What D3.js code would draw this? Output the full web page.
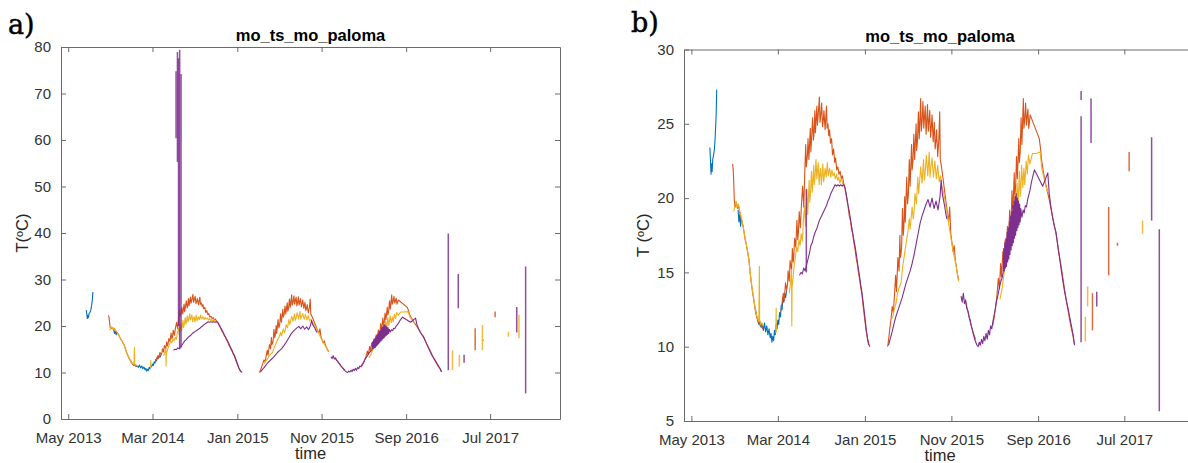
<!DOCTYPE html>
<html>
<head>
<meta charset="utf-8">
<script src="https://cdn.jsdelivr.net/npm/d3@7"></script>
<style>
  html, body { margin: 0; padding: 0; background: #fff; }
  svg { display: block; }
</style>
</head>
<body>
<svg id="chart" width="1188" height="463"></svg>
<script>
// ---------------- DATA ----------------
const xTickDates  = ["2013-05-01","2014-03-01","2015-01-01","2015-11-01","2016-09-01","2017-07-01"];
const xTickLabels = ["May 2013","Mar 2014","Jan 2015","Nov 2015","Sep 2016","Jul 2017"];
const xDomain     = ["2013-04-05","2018-03-10"];
const yTicksA = [0,10,20,30,40,50,60,70,80];
const yTicksB = [5,10,15,20,25,30];
const chartTitle = "mo_ts_mo_paloma";
const seriesNames = ["blue","orange","yellow","purple"];

const blueSeries = [
 ["2013-07-05",23.4],["2013-07-07",22.6],["2013-07-09",21.6],["2013-07-11",22.3],["2013-07-13",21.8],["2013-07-15",22.6],["2013-07-18",22.9],["2013-07-21",23.3],["2013-07-23",23.9],["2013-07-25",24.7],["2013-07-27",25.6],["2013-07-29",27.3],
 ["2013-07-30",null],
 ["2013-10-12",19.2],["2013-10-15",18.4],["2013-10-18",18.9],["2013-10-21",18.1],["2013-10-24",18.7],
 ["2013-10-25",null],
 ["2013-12-12",12.6],["2013-12-16",12.1],["2013-12-20",11.8],["2013-12-24",11.5],["2013-12-28",11.7],["2014-01-01",11.3],["2014-01-05",11.5],["2014-01-09",11.1],["2014-01-13",11.6],["2014-01-17",11.0],["2014-01-21",11.4],["2014-01-25",10.8],["2014-01-29",11.2],["2014-02-02",10.6],["2014-02-05",10.9],["2014-02-08",10.3],["2014-02-11",10.7],["2014-02-14",10.4],["2014-02-17",11.1],["2014-02-20",10.8],["2014-02-23",11.5],["2014-02-26",11.2],["2014-03-01",11.8],["2014-03-04",11.5],["2014-03-07",12.3],["2014-03-10",12.0],["2014-03-13",12.8],["2014-03-16",12.5],["2014-03-19",13.3],["2014-03-22",13.0],["2014-03-25",13.6],["2014-03-28",13.3],["2014-04-01",13.8]
];

const orangeSeries = [
 ["2013-09-23",22.3],["2013-09-25",21.9],["2013-09-27",21.0],["2013-09-29",19.8],["2013-10-02",19.4],["2013-10-06",19.7],["2013-10-10",19.3],["2013-10-14",19.5],["2013-10-18",19.0],["2013-10-22",18.7],["2013-10-26",18.4],["2013-10-30",18.1],["2013-11-03",17.6],["2013-11-07",17.1],["2013-11-11",16.8],["2013-11-15",16.3],["2013-11-19",15.9],["2013-11-23",15.1],["2013-11-27",14.4],["2013-12-01",13.8],["2013-12-05",13.3],["2013-12-09",12.8],["2013-12-13",12.3],["2013-12-17",12.0],["2013-12-21",11.7],["2013-12-25",11.6],["2013-12-29",11.4],["2014-01-02",11.5],["2014-01-06",11.2],
 ["2014-01-07",null],
 ["2014-03-12",12.4],["2014-03-16",13.0],["2014-03-20",13.6],["2014-03-23",13.1],["2014-03-28",14.3],["2014-04-01",13.8],["2014-04-04",14.2],["2014-04-06",15.1],["2014-04-10",14.4],["2014-04-13",15.8],["2014-04-18",15.1],["2014-04-21",16.6],["2014-04-24",15.7],["2014-04-26",16.1],["2014-04-29",17.3],["2014-05-03",16.7],["2014-05-07",18.5],["2014-05-10",17.2],["2014-05-12",17.6],["2014-05-15",19.1],["2014-05-19",18.0],["2014-05-23",19.6],["2014-05-27",20.8],["2014-05-31",19.4],
 ["2014-06-04",22.0],["2014-06-07",23.6],["2014-06-09",22.1],["2014-06-13",22.9],["2014-06-15",24.0],["2014-06-18",22.6],["2014-06-23",24.7],["2014-06-25",23.1],["2014-06-27",23.8],["2014-07-01",25.4],["2014-07-04",23.9],["2014-07-06",24.3],["2014-07-09",25.9],["2014-07-11",24.4],["2014-07-16",26.2],["2014-07-18",24.9],["2014-07-20",25.4],["2014-07-25",26.8],["2014-07-27",25.1],["2014-07-30",25.6],["2014-08-02",26.4],["2014-08-05",24.8],["2014-08-08",25.3],["2014-08-10",25.9],["2014-08-14",24.6],["2014-08-19",26.2],["2014-08-21",24.7],["2014-08-24",25.0],["2014-08-27",24.2],["2014-08-30",24.6],["2014-09-02",23.7],["2014-09-06",24.0],["2014-09-09",22.9],["2014-09-13",23.3],["2014-09-17",22.4],["2014-09-20",22.7],["2014-09-24",21.9],["2014-09-28",22.1],["2014-10-02",21.6],["2014-10-06",21.8],["2014-10-10",21.3],["2014-10-14",21.5],["2014-10-18",21.0],["2014-10-22",20.8],["2014-10-26",20.3],["2014-10-30",19.9],["2014-11-03",19.4],["2014-11-07",18.8],["2014-11-11",18.5],["2014-11-15",17.9],["2014-11-19",17.6],["2014-11-23",17.0],["2014-11-27",16.6],["2014-12-01",16.0],["2014-12-05",15.6],["2014-12-09",15.0],["2014-12-13",14.6],["2014-12-17",14.0],["2014-12-21",13.6],["2014-12-25",12.9],["2014-12-29",12.2],["2015-01-02",11.6],["2015-01-06",11.0],["2015-01-10",10.5],["2015-01-14",10.1],
 ["2015-01-15",null],
 ["2015-03-22",10.0],["2015-03-26",10.6],["2015-03-30",11.3],["2015-04-03",11.9],["2015-04-07",12.7],["2015-04-11",12.3],["2015-04-15",13.5],["2015-04-19",14.8],["2015-04-22",13.7],["2015-04-27",16.0],["2015-05-01",15.1],["2015-05-04",17.5],["2015-05-06",16.0],["2015-05-10",16.6],["2015-05-13",19.3],["2015-05-16",17.5],["2015-05-18",18.1],["2015-05-21",20.1],["2015-05-23",18.4],["2015-05-28",21.4],["2015-05-31",19.6],["2015-06-03",20.3],["2015-06-06",22.6],["2015-06-09",20.8],["2015-06-14",23.6],["2015-06-16",21.9],["2015-06-19",22.5],["2015-06-22",24.3],["2015-06-25",22.6],["2015-06-30",25.0],["2015-07-02",23.2],["2015-07-05",23.9],["2015-07-08",25.8],["2015-07-11",24.0],["2015-07-16",26.7],["2015-07-18",24.5],["2015-07-21",25.1],["2015-07-24",26.5],["2015-07-27",24.7],["2015-08-01",26.2],["2015-08-04",24.3],["2015-08-06",24.9],["2015-08-09",26.3],["2015-08-12",24.5],["2015-08-17",25.9],["2015-08-20",24.1],["2015-08-22",24.6],["2015-08-25",25.6],["2015-08-29",23.8],["2015-09-02",25.1],["2015-09-05",23.3],["2015-09-08",23.9],["2015-09-10",24.6],["2015-09-14",22.8],["2015-09-18",24.0],["2015-09-21",25.8],["2015-09-23",22.6],["2015-09-28",22.0],["2015-10-02",21.4],["2015-10-06",20.8],["2015-10-10",20.2],["2015-10-14",19.6],["2015-10-18",19.0],["2015-10-22",18.4],["2015-10-26",19.4],["2015-10-30",17.6],["2015-11-03",17.0],["2015-11-07",16.4],["2015-11-11",16.8],["2015-11-15",15.8],["2015-11-19",15.3],["2015-11-23",14.8],["2015-11-27",14.5],
 ["2015-11-28",null],
 ["2015-12-20",13.2],["2015-12-26",12.6],["2016-01-01",12.2],["2016-01-07",11.6],["2016-01-13",11.2],["2016-01-19",10.8],["2016-01-25",10.5],
 ["2016-01-26",null],
 ["2016-03-25",11.4],["2016-03-30",11.9],["2016-04-04",12.6],["2016-04-09",13.4],["2016-04-14",14.6],["2016-04-18",13.9],["2016-04-22",15.6],["2016-04-25",14.7],["2016-04-30",16.4],["2016-05-03",15.5],["2016-05-05",15.9],["2016-05-08",17.2],["2016-05-12",16.3],["2016-05-16",18.1],["2016-05-19",16.9],["2016-05-24",19.2],["2016-05-27",17.8],["2016-05-29",18.4],["2016-06-01",20.5],["2016-06-04",19.0],["2016-06-09",21.7],["2016-06-11",20.1],["2016-06-14",20.8],["2016-06-17",22.8],["2016-06-20",21.3],["2016-06-25",24.0],["2016-06-27",22.4],["2016-06-30",23.1],["2016-07-03",25.4],["2016-07-06",23.6],["2016-07-11",26.7],["2016-07-13",24.7],["2016-07-16",25.3],["2016-07-19",26.4],["2016-07-22",24.9],["2016-07-27",26.0],["2016-07-30",24.7],["2016-08-04",25.6],["2016-09-05",24.0],["2016-09-09",23.4],["2016-09-13",22.6],["2016-09-19",21.8],["2016-09-26",21.1],["2016-10-03",20.5],["2016-10-10",19.9],["2016-10-17",19.2],["2016-10-24",18.5],["2016-10-31",17.9],["2016-11-07",17.1],["2016-11-14",16.2],["2016-11-21",15.4],["2016-11-28",14.5],["2016-12-05",13.6],["2016-12-12",12.8],["2016-12-19",12.0],["2016-12-26",11.3],["2017-01-02",10.7],["2017-01-06",10.2]
];

const yellowSeries = [
 ["2013-09-27",19.1],["2013-10-01",19.5],["2013-10-05",19.8],["2013-10-09",19.4],["2013-10-13",19.6],["2013-10-17",19.2],["2013-10-21",18.9],["2013-10-25",18.6],["2013-10-29",18.2],["2013-11-02",17.7],["2013-11-06",17.3],["2013-11-10",16.9],["2013-11-14",16.5],["2013-11-18",16.0],["2013-11-22",15.3],["2013-11-26",14.6],["2013-11-30",14.0],["2013-12-04",13.5],["2013-12-08",13.0],["2013-12-12",12.5],["2013-12-16",12.1],["2013-12-20",11.9],["2013-12-24",11.7],["2013-12-26",15.4],["2013-12-27",11.8],["2013-12-31",11.5],["2014-01-04",11.6],["2014-01-08",11.4],
 ["2014-01-09",null],
 ["2014-02-22",10.9],["2014-02-23",12.6],["2014-02-24",11.0],
 ["2014-02-25",null],
 ["2014-04-10",13.6],["2014-04-14",14.2],["2014-04-18",15.2],["2014-04-19",11.4],["2014-04-20",14.0],["2014-04-24",14.8],["2014-04-28",15.6],["2014-05-02",16.1],["2014-05-06",16.7],["2014-05-10",16.4],["2014-05-14",17.2],["2014-05-18",16.8],["2014-05-22",17.6],["2014-05-26",17.1],["2014-05-30",18.6],
 ["2014-06-03",19.5],["2014-06-06",18.1],["2014-06-08",18.9],["2014-06-11",20.6],["2014-06-14",18.9],["2014-06-19",21.2],["2014-06-21",19.7],["2014-06-24",20.4],["2014-06-27",21.8],["2014-06-30",20.4],["2014-07-05",22.2],["2014-07-07",20.9],["2014-07-10",21.5],["2014-07-13",22.6],["2014-07-16",21.3],["2014-07-21",22.4],["2014-07-24",20.9],["2014-07-26",21.5],["2014-07-29",22.0],["2014-08-01",20.9],["2014-08-06",22.3],["2014-08-09",21.1],["2014-08-12",21.6],["2014-08-14",22.0],["2014-08-18",21.4],["2014-08-22",22.4],["2014-08-25",21.5],["2014-08-30",22.0],["2014-09-03",21.4],["2014-09-07",21.9],["2014-09-11",21.5],["2014-09-15",21.7],["2014-09-19",21.3],["2014-09-23",21.6],["2014-09-27",21.2],["2014-10-01",21.4],["2014-10-05",21.0],["2014-10-09",21.3],["2014-10-13",21.1],["2014-10-17",20.9],
 ["2014-10-18",null],
 ["2015-04-08",11.9],["2015-04-14",12.5],["2015-04-20",12.9],["2015-04-26",13.6],["2015-05-02",14.0],["2015-05-08",14.3],["2015-05-14",15.4],["2015-05-20",16.2],["2015-05-26",17.0],["2015-06-01",17.7],["2015-06-06",18.6],["2015-06-09",17.9],["2015-06-16",19.4],["2015-06-20",18.6],["2015-06-23",19.1],["2015-06-26",20.3],["2015-07-01",19.6],["2015-07-06",21.4],["2015-07-09",20.3],["2015-07-11",20.8],["2015-07-16",22.1],["2015-07-21",21.0],["2015-07-26",22.6],["2015-07-29",21.2],["2015-08-01",21.7],["2015-08-05",22.9],["2015-08-10",21.5],["2015-08-15",23.1],["2015-08-18",21.4],["2015-08-20",21.9],["2015-08-25",22.7],["2015-08-30",21.4],["2015-09-04",22.5],["2015-09-09",21.3],["2015-09-14",22.2],["2015-09-19",21.1],["2015-09-24",21.5],["2015-09-29",20.7],["2015-10-04",20.4],["2015-10-09",19.9],["2015-10-14",19.3],["2015-10-19",18.8],["2015-10-24",18.1],["2015-10-29",17.5],["2015-11-03",16.9],["2015-11-08",16.3],["2015-11-13",15.9],["2015-11-18",15.4],["2015-11-23",14.8],["2015-11-26",14.4],
 ["2015-11-27",null],
 ["2016-04-20",13.2],["2016-04-28",14.0],["2016-05-06",15.2],["2016-05-12",16.0],["2016-05-18",16.8],["2016-05-24",17.6],["2016-05-30",18.4],["2016-06-03",19.3],["2016-06-06",18.2],["2016-06-11",20.2],["2016-06-14",18.9],["2016-06-16",19.4],["2016-06-19",21.0],["2016-06-23",19.6],["2016-06-27",21.8],["2016-06-30",20.1],["2016-07-02",20.6],["2016-07-05",22.2],["2016-07-09",20.7],["2016-07-13",22.0],["2016-07-16",20.9],["2016-07-21",22.5],["2016-07-25",21.6],["2016-07-29",22.9],["2016-08-03",22.3],["2016-08-12",23.0],["2016-08-25",23.0],["2016-09-08",23.1],["2016-09-14",22.0],["2016-09-20",21.5],["2016-09-27",20.9],["2016-10-04",20.4]
];

const purpleSeries = [
 ["2014-05-16",14.8],["2014-05-21",15.0],["2014-05-26",14.9],["2014-05-31",15.3],["2014-06-05",15.1],["2014-06-10",15.5],["2014-06-15",15.9],["2014-06-20",16.3],["2014-06-25",16.8],["2014-06-30",17.0],["2014-07-05",17.4],["2014-07-10",17.7],["2014-07-15",17.9],["2014-07-20",18.2],["2014-07-25",18.5],["2014-07-30",18.7],["2014-08-04",18.9],["2014-08-09",19.1],["2014-08-14",19.3],["2014-08-19",19.5],["2014-08-24",19.8],["2014-08-29",20.0],["2014-09-03",20.3],["2014-09-08",20.5],["2014-09-13",20.7],["2014-09-18",20.9],["2014-09-23",20.8],["2014-09-28",20.9],["2014-10-03",20.8],["2014-10-08",20.9],["2014-10-13",20.8],["2014-10-18",20.9],["2014-10-23",20.7],["2014-10-28",20.2],["2014-11-02",19.6],["2014-11-07",19.1],["2014-11-12",18.5],["2014-11-17",17.9],["2014-11-22",17.3],["2014-11-27",16.8],["2014-12-02",16.2],["2014-12-07",15.5],["2014-12-12",14.9],["2014-12-17",14.2],["2014-12-22",13.6],["2014-12-27",12.8],["2015-01-01",12.0],["2015-01-06",11.1],["2015-01-11",10.5],["2015-01-16",10.1],["2015-01-19",10.0],
 ["2015-01-20",null],
 ["2015-03-25",10.1],["2015-04-01",10.6],["2015-04-08",11.1],["2015-04-14",11.6],["2015-04-21",12.1],["2015-04-28",12.5],["2015-05-05",12.9],["2015-05-12",13.3],["2015-05-19",13.8],["2015-05-26",14.3],["2015-06-02",14.7],["2015-06-09",15.1],["2015-06-16",15.6],["2015-06-23",16.2],["2015-06-30",16.9],["2015-07-07",17.6],["2015-07-14",18.3],["2015-07-21",18.8],["2015-07-28",19.2],["2015-08-04",19.6],["2015-08-11",19.9],["2015-08-18",19.4],["2015-08-25",20.0],["2015-09-01",19.3],["2015-09-08",19.8],["2015-09-15",19.2],["2015-09-22",20.1],["2015-09-26",21.2],["2015-09-30",20.3],["2015-10-04",19.9],["2015-10-08",19.5],["2015-10-12",19.0],["2015-10-16",18.6],
 ["2015-10-17",null],
 ["2015-12-05",13.4],["2015-12-09",13.0],["2015-12-13",13.6],["2015-12-17",12.9],["2015-12-21",13.1],["2015-12-25",12.6],["2015-12-29",12.4],["2016-01-02",12.0],["2016-01-06",11.8],["2016-01-10",11.4],["2016-01-14",11.1],["2016-01-18",10.8],["2016-01-22",10.5],["2016-01-26",10.3],["2016-01-30",10.1],["2016-02-03",10.0],["2016-02-07",10.3],["2016-02-11",10.1],["2016-02-15",10.5],["2016-02-19",10.2],["2016-02-23",10.7],["2016-02-27",10.4],["2016-03-02",10.9],["2016-03-06",10.5],["2016-03-10",11.1],["2016-03-14",10.8],["2016-03-18",11.4],["2016-03-22",11.2],["2016-03-26",11.7],["2016-03-30",12.1],["2016-04-03",12.5],["2016-04-07",13.0],["2016-04-11",13.3],["2016-04-15",13.7],["2016-04-19",14.1],["2016-04-23",14.4],["2016-04-27",14.6],["2016-05-01",15.0],
 ["2016-05-03",16.6],["2016-05-05",15.1],["2016-05-07",17.0],["2016-05-09",15.3],["2016-05-11",17.3],["2016-05-13",15.4],["2016-05-15",17.7],["2016-05-17",15.7],["2016-05-19",18.0],["2016-05-21",15.9],["2016-05-23",18.4],["2016-05-25",16.2],["2016-05-27",18.8],["2016-05-29",16.5],["2016-05-31",19.1],["2016-06-02",16.8],["2016-06-04",19.5],["2016-06-06",17.0],["2016-06-08",19.8],["2016-06-10",17.3],["2016-06-12",20.1],["2016-06-14",17.5],["2016-06-16",20.3],["2016-06-18",17.8],["2016-06-20",20.0],["2016-06-22",18.0],["2016-06-24",19.8],["2016-06-26",18.2],["2016-06-28",19.6],["2016-06-30",18.4],["2016-07-02",19.3],["2016-07-06",18.7],["2016-07-10",19.2],["2016-07-14",19.0],["2016-07-18",19.5],["2016-07-22",19.4],["2016-07-26",19.9],["2016-07-30",20.2],["2016-08-03",20.5],["2016-08-10",21.2],["2016-08-19",21.9],["2016-09-17",20.8],["2016-10-05",21.7],["2016-10-10",20.3],["2016-10-16",19.4],["2016-10-22",18.7],["2016-10-28",18.1],["2016-11-03",17.7],["2016-11-09",16.8],["2016-11-15",16.0],["2016-11-21",15.2],["2016-11-27",14.4],["2016-12-03",13.7],["2016-12-09",13.1],["2016-12-15",12.6],["2016-12-21",12.0],["2016-12-27",11.4],["2017-01-02",10.8],["2017-01-07",10.1]
];

// vertical segments (date, low, high) specific to each panel
const spikesA_purple = [["2014-05-25",60.4,74.8],["2014-05-30",55.3,78.9],["2014-06-03",20.0,77.6],["2014-06-07",15.0,79.4],["2014-06-12",15.3,74.2],["2017-01-31",10.5,39.9],["2017-03-08",23.8,31.2],["2017-03-29",12.1,13.8],["2017-10-05",18.6,24.1],["2017-11-06",5.5,32.8]];
const spikesA_orange = [["2017-05-08",14.8,19.5],["2017-06-05",16.8,17.1],["2017-07-19",21.9,23.1]];
const spikesA_yellow = [["2017-02-15",10.5,14.8],["2017-03-12",11.3,13.8],["2017-06-03",14.8,20.2],["2017-09-05",17.7,18.8],["2017-10-13",17.4,22.4]];
const spikesB_purple = [["2014-06-09",15.0,20.6],["2017-01-30",10.3,25.5],["2017-01-30",26.6,27.2],["2017-03-06",23.7,26.7],["2017-03-26",12.7,13.7],["2017-10-05",18.5,24.1],["2017-11-01",5.65,17.9]];
const spikesB_orange = [["2017-03-11",11.1,13.6],["2017-05-07",14.8,19.4],["2017-06-07",16.8,17.0],["2017-07-18",21.8,23.1]];
const spikesB_yellow = [["2017-02-14",10.35,12.0],["2017-02-22",12.7,14.05],["2017-09-03",17.6,18.5]];

// ---------------- DRAWING ----------------
const colors = {blue:"#0072BD", orange:"#D95319", yellow:"#EDB120", purple:"#7E2F8E"};
const seriesData = {blue:blueSeries, orange:orangeSeries, yellow:yellowSeries, purple:purpleSeries};
const parse = d3.timeParse("%Y-%m-%d");
const svg = d3.select("#chart");
const FONT = "'Liberation Sans', Arial, Helvetica, sans-serif";

const panels = [
  {key:"a", left:61, right:560, top:47, bottom:419, yDomain:[0,80], yTicks:yTicksA,
   ylabel:"T(ºC)", ylabelX:28, label:"a)", labelX:8, labelY:34, titleY:40.5, xlabelY:459,
   spikes:{orange:spikesA_orange, yellow:spikesA_yellow, purple:spikesA_purple}},
  {key:"b", left:684, right:1196, top:49.5, bottom:421, yDomain:[5,30], yTicks:yTicksB,
   ylabel:"T (ºC)", ylabelX:649, label:"b)", labelX:631, labelY:32, titleY:42, xlabelY:461,
   spikes:{orange:spikesB_orange, yellow:spikesB_yellow, purple:spikesB_purple}}
];

panels.forEach(p => {
  const x = d3.scaleTime().domain(xDomain.map(parse)).range([p.left, p.right]);
  const y = d3.scaleLinear().domain(p.yDomain).range([p.bottom, p.top]);
  const g = svg.append("g");

  const clipId = "clip-" + p.key;
  svg.append("defs").append("clipPath").attr("id", clipId)
    .append("rect").attr("x", p.left).attr("y", p.top)
    .attr("width", p.right - p.left).attr("height", p.bottom - p.top);

  const plot = g.append("g").attr("clip-path", `url(#${clipId})`);
  const line = d3.line().defined(d => d[1] !== null)
    .x(d => x(parse(d[0]))).y(d => y(d[1]));

  seriesNames.forEach(name => {
    plot.append("path").datum(seriesData[name])
      .attr("d", line).attr("fill", "none")
      .attr("stroke", colors[name]).attr("stroke-width", 1.1)
      .attr("stroke-linejoin", "round");
    const sp = p.spikes[name] || [];
    plot.selectAll(null).data(sp).enter().append("line")
      .attr("x1", d => x(parse(d[0]))).attr("x2", d => x(parse(d[0])))
      .attr("y1", d => y(d[1])).attr("y2", d => y(d[2]))
      .attr("stroke", colors[name]).attr("stroke-width", 1.5)
      .attr("stroke-opacity", 0.85);
  });

  // axes (box with inward ticks on all sides)
  const axisColor = "#6a6a6a";
  const tickLen = 5;
  const axisG = g.append("g");
  const xAxisB = d3.axisBottom(x).tickValues(xTickDates.map(parse))
    .tickFormat((d, i) => xTickLabels[i]).tickSizeInner(-tickLen).tickSizeOuter(0).tickPadding(tickLen + 8);
  const xAxisT = d3.axisTop(x).tickValues(xTickDates.map(parse))
    .tickFormat("").tickSizeInner(-tickLen).tickSizeOuter(0);
  const yAxisL = d3.axisLeft(y).tickValues(p.yTicks).tickFormat(d3.format("d"))
    .tickSizeInner(-tickLen).tickSizeOuter(0).tickPadding(tickLen + 5);
  const yAxisR = d3.axisRight(y).tickValues(p.yTicks).tickFormat("")
    .tickSizeInner(-tickLen).tickSizeOuter(0);

  const gb = axisG.append("g").attr("transform", `translate(0,${p.bottom})`).call(xAxisB);
  const gt = axisG.append("g").attr("transform", `translate(0,${p.top})`).call(xAxisT);
  const gl = axisG.append("g").attr("transform", `translate(${p.left},0)`).call(yAxisL);
  const gr = axisG.append("g").attr("transform", `translate(${p.right},0)`).call(yAxisR);
  [gb, gt, gl, gr].forEach(a => {
    a.select(".domain").attr("stroke", axisColor).attr("stroke-width", 1);
    a.selectAll(".tick line").attr("stroke", axisColor).attr("stroke-width", 1);
    a.selectAll("text").attr("fill", "#333").style("font-family", FONT).style("font-size", "15px");
  });

  // title
  g.append("text").attr("x", (p.left + p.right) / 2).attr("y", p.titleY)
    .attr("text-anchor", "middle").style("font-family", FONT)
    .style("font-size", "16.5px").style("font-weight", "bold").attr("fill", "#000")
    .text(chartTitle);

  // x label
  g.append("text").attr("x", (p.left + p.right) / 2).attr("y", p.xlabelY)
    .attr("text-anchor", "middle").style("font-family", FONT)
    .style("font-size", "16.5px").attr("fill", "#262626").text("time");

  // y label
  g.append("text")
    .attr("transform", `translate(${p.ylabelX},${(p.top + p.bottom) / 2}) rotate(-90)`)
    .attr("text-anchor", "middle").style("font-family", FONT)
    .style("font-size", "16.5px").attr("fill", "#262626").text(p.ylabel);

  // panel letter
  svg.append("text").attr("x", p.labelX).attr("y", p.labelY)
    .style("font-family", "'DejaVu Serif', 'Liberation Serif', serif")
    .style("font-size", "27px").attr("fill", "#000")
    .attr("stroke", "#000").attr("stroke-width", 0.5)
    .text(p.label);
});
</script>
</body>
</html>
